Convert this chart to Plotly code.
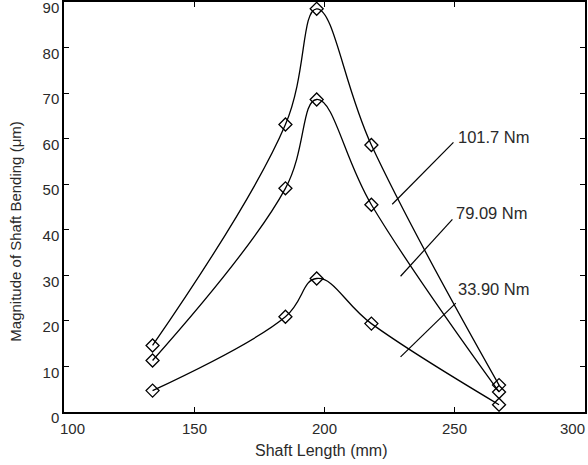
import plotly.graph_objects as go

# Data
shaft_length = [134, 185, 197, 218, 267]
bend_101_7 = [14.6, 63.1, 88.5, 58.6, 5.9]
bend_79_09 = [11.3, 49.1, 68.6, 45.5, 4.4]
bend_33_90 = [4.7, 20.9, 29.3, 19.4, 1.6]

series_names = ["101.7 Nm", "79.09 Nm", "33.90 Nm"]
series_values = [bend_101_7, bend_79_09, bend_33_90]

# Label anchor (start of text) and leader-line endpoints (data units)
label_x = [250.3, 249.8, 250.3]
label_y = [60.3, 43.6, 27.0]
leader_start_x = [249.5, 249.1, 250.4]
leader_start_y = [59.2, 42.3, 23.9]
leader_end_x = [226.0, 229.2, 229.2]
leader_end_y = [45.6, 29.8, 12.1]

x_ticks = [100, 150, 200, 250, 300]
y_ticks = [0, 10, 20, 30, 40, 50, 60, 70, 80, 90]

FONT = "Liberation Sans, Arial, sans-serif"
TXT = "#2a2a2a"

fig = go.Figure()
for name, vals in zip(series_names, series_values):
    fig.add_trace(go.Scatter(
        x=shaft_length, y=vals, name=name, mode="lines+markers",
        line=dict(color="black", width=1.3, shape="spline", smoothing=1.15),
        marker=dict(symbol="diamond-open", size=10, color="black",
                    line=dict(width=1.3, color="black")),
        showlegend=False,
    ))

for i, name in enumerate(series_names):
    fig.add_shape(type="line", xref="x", yref="y",
                  x0=leader_start_x[i], y0=leader_start_y[i],
                  x1=leader_end_x[i], y1=leader_end_y[i],
                  line=dict(color="black", width=1.2))
    fig.add_annotation(x=label_x[i], y=label_y[i], xref="x", yref="y",
                       text=name, showarrow=False, xanchor="left", yanchor="middle",
                       font=dict(family=FONT, size=16.5, color=TXT))

# x tick labels (edge labels nudged inward as in the reference)
for t in x_ticks:
    if t == x_ticks[-1]:
        anchor, shift = "right", 2
    elif t == x_ticks[0]:
        anchor, shift = "center", 8
    else:
        anchor, shift = "center", 0
    fig.add_annotation(x=t, y=0, xref="x", yref="paper", text=str(t),
                       showarrow=False, xanchor=anchor, yanchor="top",
                       xshift=shift, yshift=-6,
                       font=dict(family=FONT, size=15, color=TXT))

# axis titles
fig.add_annotation(x=0.495, y=-0.095, xref="paper", yref="paper",
                   text="Shaft Length (mm)", showarrow=False,
                   xanchor="center", yanchor="middle",
                   font=dict(family=FONT, size=16, color=TXT))
fig.add_annotation(x=-0.092, y=0.44, xref="paper", yref="paper",
                   text="Magnitude of Shaft Bending (\u03bcm)", showarrow=False,
                   textangle=-90, xanchor="center", yanchor="middle",
                   font=dict(family=FONT, size=15, color=TXT))

axis_common = dict(
    showline=True, linecolor="black", linewidth=1.5, mirror="ticks",
    ticks="inside", ticklen=5, tickcolor="black", tickwidth=1,
    showgrid=False, zeroline=False, automargin=False,
    ticklabeloverflow="allow",
    tickfont=dict(family=FONT, size=15, color=TXT),
)

fig.update_xaxes(range=[100, 300], tickvals=x_ticks, showticklabels=False,
                 **axis_common)
fig.update_yaxes(range=[0, 90], tickvals=y_ticks, ticklabelshift=6,
                 **axis_common)

fig.update_layout(
    width=588, height=465,
    margin=dict(l=64, r=3, t=2, b=53),
    paper_bgcolor="white", plot_bgcolor="white",
    font=dict(family=FONT, color=TXT),
)

fig.write_html(
    "out.html",
    config={"displayModeBar": False},
    post_script="document.body.style.margin='0';document.body.style.padding='0';"
                "document.body.style.overflow='hidden';",
)
